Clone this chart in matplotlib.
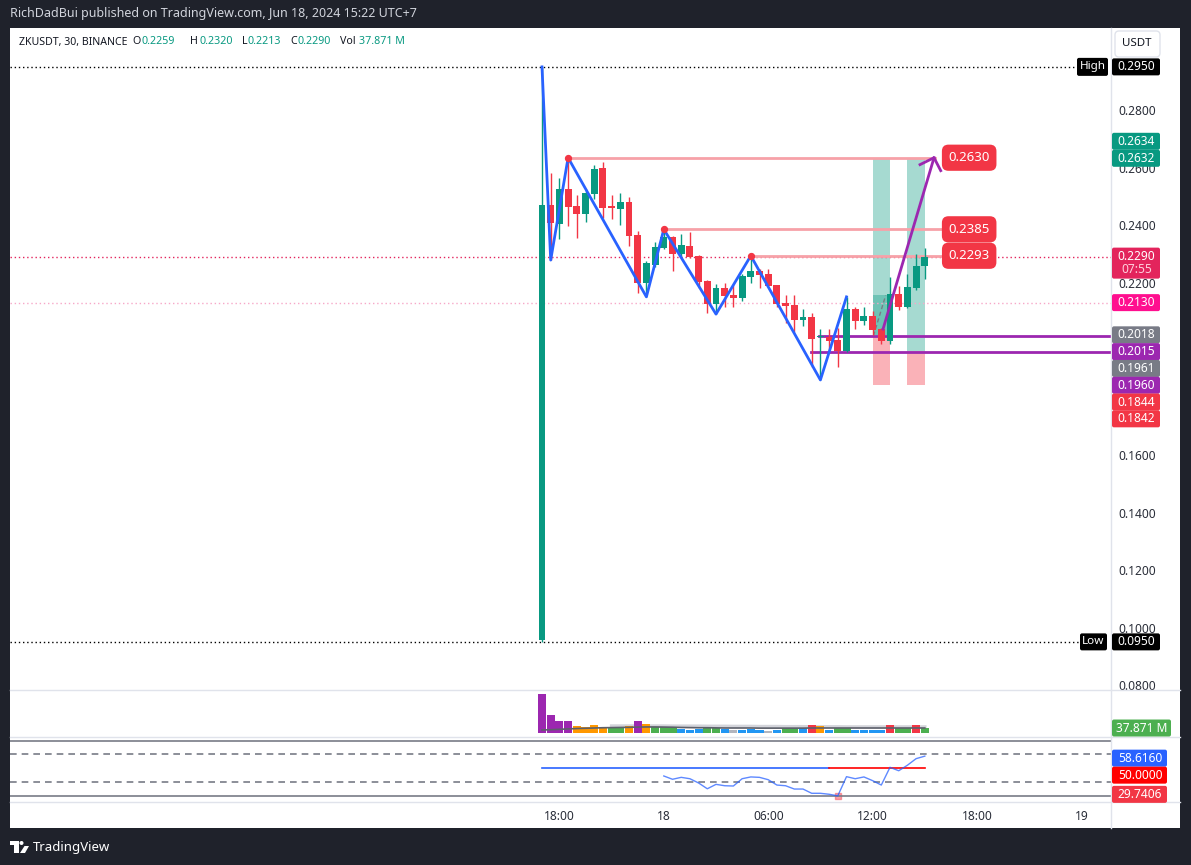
import numpy as np
import matplotlib.pyplot as plt
import matplotlib.transforms as mtransforms
from matplotlib.patches import Rectangle, FancyBboxPatch, Polygon, Circle

plt.rcParams['font.family'] = ['Noto Sans', 'DejaVu Sans']

W, H = 1191, 865
GREEN = '#089981'
RED = '#f23645'
PURPLE = '#9c27b0'
BLUE = '#2962ff'
SEP = '#e0e3eb'
TXT = '#131722'

# ZKUSDT 30m candles, Jun 17 17:00 -> Jun 18 15:00 (UTC+7)
opens = [0.0955, 0.2470, 0.2405, 0.2525, 0.2466, 0.2438, 0.2508, 0.2598, 0.2466, 0.2456,
         0.2480, 0.2365, 0.2198, 0.2261, 0.2320, 0.2358, 0.2300, 0.2327, 0.2292, 0.2205,
         0.2125, 0.2181, 0.2157, 0.2146, 0.2219, 0.2240, 0.2230, 0.2191, 0.2129, 0.2122,
         0.2070, 0.2080, 0.2010, 0.2010, 0.2000, 0.1962, 0.2108, 0.2066, 0.2083, 0.2038,
         0.1997, 0.2160, 0.2115, 0.2181, 0.2259]
highs = [0.2950, 0.2580, 0.2565, 0.2634, 0.2505, 0.2525, 0.2610, 0.2620, 0.2504, 0.2511,
         0.2497, 0.2380, 0.2275, 0.2340, 0.2385, 0.2362, 0.2370, 0.2376, 0.2295, 0.2210,
         0.2195, 0.2198, 0.2191, 0.2228, 0.2293, 0.2248, 0.2247, 0.2192, 0.2157, 0.2157,
         0.2108, 0.2094, 0.2038, 0.2038, 0.2041, 0.2150, 0.2115, 0.2115, 0.2101, 0.2042,
         0.2220, 0.2188, 0.2230, 0.2299, 0.2320]
lows = [0.0950, 0.2278, 0.2350, 0.2395, 0.2355, 0.2410, 0.2490, 0.2424, 0.2421, 0.2400,
        0.2327, 0.2164, 0.2150, 0.2255, 0.2316, 0.2240, 0.2290, 0.2285, 0.2180, 0.2094,
        0.2090, 0.2115, 0.2115, 0.2136, 0.2198, 0.2181, 0.2185, 0.2115, 0.2059, 0.2028,
        0.2049, 0.1906, 0.1861, 0.1958, 0.1906, 0.1958, 0.2038, 0.2052, 0.2017, 0.1986,
        0.1986, 0.2104, 0.2112, 0.2174, 0.2213]
closes = [0.2470, 0.2407, 0.2525, 0.2463, 0.2438, 0.2511, 0.2595, 0.2459, 0.2460, 0.2480,
          0.2362, 0.2198, 0.2268, 0.2323, 0.2358, 0.2300, 0.2330, 0.2290, 0.2202, 0.2125,
          0.2181, 0.2153, 0.2146, 0.2223, 0.2240, 0.2226, 0.2188, 0.2125, 0.2118, 0.2070,
          0.2080, 0.2003, 0.2014, 0.1997, 0.1962, 0.2108, 0.2066, 0.2083, 0.2035, 0.1997,
          0.2160, 0.2115, 0.2184, 0.2257, 0.2290]

# volume in millions, bar colour class
volume = [296, 137, 91, 91, 53, 46, 61, 46, 38, 46, 53, 91, 68, 46, 46, 46, 30, 23, 30, 46,
          38, 30, 23, 23, 30, 23, 15, 23, 38, 38, 38, 61, 53, 23, 38, 38, 23, 23, 23, 23,
          61, 38, 38, 61, 37.871]
vol_class = ['p', 'p', 'p', 'p', 'o', 'o', 'o', 'o', 'g', 'g', 'o', 'p', 'o', 'g', 'g', 'g',
             'b', 'b', 'b', 'g', 'g', 'b', 'x', 'b', 'b', 'b', 'x', 'b', 'g', 'g', 'b', 'r',
             'o', 'b', 'g', 'g', 'b', 'b', 'b', 'b', 'r', 'g', 'g', 'r', 'g']
vol_ma = [23, 25, 28, 31, 34, 36, 38, 40, 41, 42, 43, 45, 46, 46, 45, 44, 42, 41, 40, 40,
          39, 38, 38, 38, 38, 37, 37, 37, 37, 37, 37, 38, 38, 38, 38, 38, 38, 38, 38, 38,
          38, 38, 38, 38, 38]
vol_ma_long = [53, 53, 53, 53, 53, 53, 53, 52, 52, 52, 52, 51, 51, 51, 50, 50, 50, 49, 49,
               49, 48, 48, 48, 47, 47, 47, 47, 46, 46, 46, 46, 46, 46, 46, 46, 46, 46]
vol_ma_long_start = 8

rsi = [44.2, 41.8, 43.2, 42.2, 39.1, 34.9, 38.1, 37.1, 36.9, 42.2, 43.5, 43.2, 41.5, 37.6,
       37.1, 34.7, 34.7, 31.6, 31.6, 30.9, 29.7406, 43.7, 42.2, 43.5, 40.8, 37.6, 50.5,
       48.0, 52.0, 56.8, 58.616]
rsi_start = 14

zz_idx = [0, 1, 3, 12, 14, 20, 24, 32, 35]
zz_price = [0.2950, 0.2278, 0.2634, 0.2150, 0.2385, 0.2090, 0.2293, 0.1861, 0.2150]
pivot_idx = [3, 14, 24]
pivot_price = [0.2634, 0.2385, 0.2293]
pivot_labels = ['0.2630', '0.2385', '0.2293']

time_ticks = [2, 14, 26, 38, 50, 62]
time_labels = ['18:00', '18', '06:00', '12:00', '18:00', '19']
# 0.2000 and 0.1800 sit under the price tags in the original
price_ticks = [0.28, 0.26, 0.24, 0.22, 0.16, 0.14, 0.12, 0.10, 0.08]

fig = plt.figure(figsize=(W / 100, H / 100), dpi=100, facecolor='#1f222b')
T = mtransforms.Affine2D().scale(1, -1).translate(0, H)  # top-down pixels


def add_ax(x0, y0, x1, y1):
    a = fig.add_axes([x0 / W, 1 - y1 / H, (x1 - x0) / W, (y1 - y0) / H])
    a.set_facecolor('white')
    for s in a.spines.values():
        s.set_visible(False)
    return a


def box(x0, y0, x1, y1, color, r=2, z=5, ec='none'):
    fig.add_artist(FancyBboxPatch((x0, y0), x1 - x0, y1 - y0,
                                  boxstyle=f'round,pad=0,rounding_size={r}',
                                  fc=color, ec=ec, transform=T, zorder=z))


def ptext(x, y, s, color='white', size=8, weight='normal', ha='center', z=6):
    fig.text(x, y, s, color=color, fontsize=size, fontweight=weight, ha=ha,
             va='center', transform=T, zorder=z)


# white chart area
fig.add_artist(Rectangle((10, 28), 1170, 800, fc='white', ec='none', transform=T, zorder=-2))

xl = ((10 - 542) / 8.7, (1111 - 542) / 8.7)
idx = np.arange(len(opens))

# ---- price pane
ax = add_ax(10, 28, 1111, 690)
ax.set_xlim(*xl)
ax.set_ylim(0.28 - (690 - 110) / 2875, 0.28 + (110 - 28) / 2875)
ax.set_xticks([])
ax.yaxis.tick_right()
ax.set_yticks(price_ticks)
ax.set_yticklabels([f'{t:.4f}' for t in price_ticks])
ax.tick_params(axis='y', length=0, pad=5, labelsize=8.6, labelcolor='#2a2e39')

# full width reference lines
ax.plot([xl[0], (1075 - 542) / 8.7], [0.2950, 0.2950], color='black', lw=1, ls=(0, (1, 2)))
ax.plot([xl[0], (1080 - 542) / 8.7], [0.0950, 0.0950], color='black', lw=1, ls=(0, (1, 2)))
ax.axhline(closes[-1], color='#e3245c', lw=1, ls=(0, (1, 2)))
ax.axhline(0.2130, color='#f7a8c8', lw=1, ls=(0, (1, 2)))

# risk/reward boxes
rr = [(38, 40, 0.2018, 0.2634, 0.1844), (42, 44, 0.1961, 0.2632, 0.1842)]
for a0, a1, entry, tgt, stop in rr:
    ax.add_patch(Rectangle((a0, entry), a1 - a0, tgt - entry, fc=GREEN, alpha=0.36, ec='none', zorder=1))
    ax.add_patch(Rectangle((a0, stop), a1 - a0, entry - stop, fc=RED, alpha=0.38, ec='none', zorder=1))
ax.add_patch(Rectangle((38, 0.2018), 2, 0.2157 - 0.2018, fc=GREEN, alpha=0.35, ec='none', zorder=1))
ax.plot([38.1, 39.5], [0.2015, 0.2155], color='#787b86', lw=1, ls=(0, (3, 2)), zorder=2)

# pivot lines
for i, p, lab in zip(pivot_idx, pivot_price, pivot_labels):
    ax.plot([i, 46.1 if i != 3 else 45.2], [p, p], color='#f7a1a8', lw=2, zorder=2)
    ax.text(49.1, p, lab, ha='center', va='center', color='white', fontsize=9.5, fontweight='bold',
            zorder=8, bbox=dict(boxstyle='round,pad=0.5,rounding_size=0.5', fc=RED, ec='none'))

# purple levels
ax.plot([31.8, xl[1]], [0.2015, 0.2015], color=PURPLE, lw=2, zorder=2)
ax.plot([30.9, xl[1]], [0.1960, 0.1960], color=PURPLE, lw=2, zorder=2)

# candles
for i in idx:
    o, h, l, c = opens[i], highs[i], lows[i], closes[i]
    col = GREEN if c >= o else RED
    ax.vlines(i, l, h, color=col, lw=1, zorder=3)
    ax.bar(i, max(abs(c - o), 0.0004), bottom=min(o, c), width=0.8, color=col, zorder=3)

# zigzag
ax.plot(zz_idx, zz_price, color=BLUE, lw=2, zorder=4)
ax.scatter(pivot_idx, pivot_price, s=18, color=RED, zorder=5)

# projection arrow
ax.plot([39.2, 45.06], [0.2038, 0.2634], color=PURPLE, lw=2, zorder=6)
ax.plot([43.45, 45.06, 45.83], [0.2610, 0.2634, 0.2589], color=PURPLE, lw=2, zorder=6)

# ---- volume pane
ax_v = add_ax(10, 690, 1111, 737)
ax_v.set_xlim(*xl)
k = 7.6
ax_v.set_ylim(-4 * k, 43 * k)
ax_v.set_xticks([])
ax_v.set_yticks([])
cmap = {'p': PURPLE, 'o': '#ff9800', 'g': '#4caf50', 'b': '#2196f3', 'x': '#b2b5be', 'r': RED}
ax_v.plot(np.arange(vol_ma_long_start, vol_ma_long_start + len(vol_ma_long)), vol_ma_long,
          color='#c8cad1', lw=2.5, alpha=0.8, zorder=1)
ax_v.bar(idx, volume, width=0.92, color=[cmap[c] for c in vol_class], zorder=2)
ax_v.plot(idx, vol_ma, color='#5d606b', lw=1.2, zorder=4)

# ---- RSI pane
ax_r = add_ax(10, 737, 1111, 802)
ax_r.set_xlim(*xl)
ax_r.set_ylim(50 - 34 / 1.375, 50 + 31 / 1.375)
ax_r.set_yticks([])
for lvl, ls in [(70, '-'), (60, (0, (4, 3))), (40, (0, (4, 3))), (30, '-')]:
    ax_r.axhline(lvl, color='#787b86', lw=1.2, ls=ls)
ax_r.plot([0, 33], [50, 50], color=BLUE, lw=1.2)
ax_r.plot([33, 44], [50, 50], color='#ff0000', lw=1.2)
ax_r.plot(np.arange(rsi_start, rsi_start + len(rsi)), rsi, color=BLUE, lw=1, alpha=0.75)
ax_r.scatter([34], [min(rsi)], marker='s', s=14, color=RED, alpha=0.45)
ax_r.set_xticks(time_ticks)
ax_r.set_xticklabels(time_labels)
ax_r.tick_params(axis='x', length=0, pad=6, labelsize=8.6, labelcolor='#2a2e39')
ax_r.get_xticklabels()[1].set_fontweight('bold')

# ---- separators
for y in (690, 737, 802):
    fig.add_artist(plt.Line2D([10, 1180], [y, y], color=SEP, lw=1, transform=T, zorder=1))
fig.add_artist(plt.Line2D([1111, 1111], [28, 828], color=SEP, lw=1, transform=T, zorder=1))


# ---- right-axis tags
def ypx(a, v):
    return H - a.transData.transform((0, v))[1]


def tag(y, s, color, x1=1160):
    box(1112, y - 8.5, x1, y + 8.5, color)
    ptext((1112 + x1) / 2 + 0.5, y, s, weight='bold', size=8.6)


box(1115, 31, 1160, 57, 'white', r=4, ec=SEP)
ptext(1137, 44, 'USDT', color=TXT, size=8.3)

y = ypx(ax, 0.2950)
tag(y, '0.2950', 'black')
box(1077, y - 9, 1108, y + 9, 'black')
ptext(1092.5, y, 'High', weight='bold', size=8.4)

y = ypx(ax, 0.2632)
tag(y - 17, '0.2634', GREEN)
tag(y, '0.2632', GREEN)

y = ypx(ax, closes[-1])
box(1112, y - 9, 1160, y + 22, '#e3245c')
ptext(1136.5, y, f'{closes[-1]:.4f}', weight='bold', size=8.6)
ptext(1136.5, y + 13, '07:55', color='#ffd0dc', weight='bold', size=8.6)

tag(ypx(ax, 0.2130), '0.2130', '#ff0f8f')

y = ypx(ax, 0.2018)
for j, (s, c) in enumerate([('0.2018', '#787b86'), ('0.2015', PURPLE), ('0.1961', '#787b86'),
                            ('0.1960', PURPLE), ('0.1844', RED), ('0.1842', RED)]):
    tag(y + 16.8 * j, s, c)

y = ypx(ax, 0.0950)
tag(y, '0.0950', 'black')
box(1080, y - 8.5, 1107, y + 8.5, 'black')
ptext(1093.5, y, 'Low', weight='bold', size=8.4)

tag(ypx(ax_v, volume[-1]), f'{volume[-1]:.3f} M', '#4caf50', x1=1171)

y = ypx(ax_r, rsi[-1]) + 2
tag(y, f'{rsi[-1]:.4f}', BLUE, x1=1167)
tag(y + 17, '50.0000', '#ff0000', x1=1167)
tag(ypx(ax_r, min(rsi)) - 1.5, f'{min(rsi):.4f}', RED, x1=1167)

# ---- header texts
ptext(10, 14, 'RichDadBui published on TradingView.com, Jun 18, 2024 15:22 UTC+7',
      color='#d1d4dc', size=9, ha='left')
ptext(19, 42, 'ZKUSDT, 30, BINANCE', color=TXT, size=7.6, ha='left')
for x, s, c in [(132, 'O', TXT), (141, f'{opens[-1]:.4f}', GREEN), (190, 'H', TXT),
                (199, f'{highs[-1]:.4f}', GREEN), (242, 'L', TXT), (248, f'{lows[-1]:.4f}', GREEN),
                (290, 'C', TXT), (298, f'{closes[-1]:.4f}', GREEN), (340, 'Vol', TXT),
                (359, f'{volume[-1]:.3f} M', GREEN)]:
    ptext(x, 42, s, color=c, size=7.7, ha='left')

# ---- footer logo
fig.add_artist(Polygon([(10, 841), (19, 841), (19, 853), (14, 853), (14, 845), (10, 845)],
                       closed=True, fc='white', ec='none', transform=T, zorder=5))
fig.add_artist(Circle((21.5, 843), 2, fc='white', ec='none', transform=T, zorder=5))
fig.add_artist(Polygon([(20, 853), (24.5, 846), (29, 846), (25, 853)],
                       closed=True, fc='white', ec='none', transform=T, zorder=5))
ptext(33, 847, 'TradingView', color='white', size=9.5, weight='bold', ha='left')

fig.savefig('out.png', dpi=100, facecolor=fig.get_facecolor())
